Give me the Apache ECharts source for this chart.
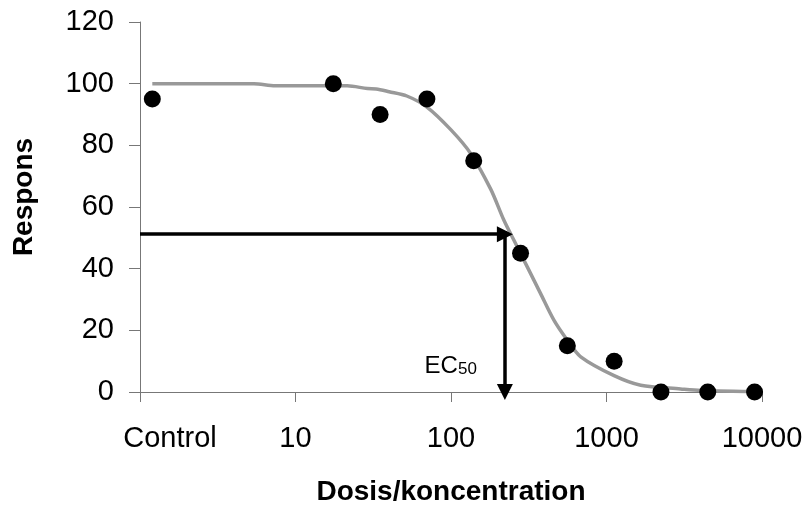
<!DOCTYPE html>
<html lang="da">
<head>
    <meta charset="UTF-8">
    <title>Dosis-respons kurve</title>
    <script src="https://cdn.jsdelivr.net/npm/echarts@6/dist/echarts.min.js"></script>
    <style>
        html, body {margin: 0; padding: 0; background: #fff;}
        #chart {width: 809px; height: 506px;}
    </style>
</head>
<body>
<div id="chart"></div>
<script>
    // målepunkter (Control placeres ved dosis ~1.2 på log-aksen)
    var doses = [1.2, 17.5, 35, 70, 140, 280, 560, 1120, 2240, 4480, 8960];
    var responses = [95, 100, 90, 95, 75, 45, 15, 10, 0, 0, 0];

    // den tilpassede kurve
    var fitDoses = [1.2, 2, 3.5, 5.4, 7.4, 10, 15, 21.5, 29, 33, 40, 52, 70, 100, 134, 180, 219, 254, 310, 377, 459, 560, 683, 1119, 1660, 3000, 4050, 10000];
    var fitResp = [100, 100, 100, 100, 99.3, 99.3, 99.3, 99.3, 98.4, 98.3, 97.4, 96, 92.4, 85, 77.3, 65.8, 55.7, 49.2, 40.5, 31.9, 23.3, 16.8, 11.4, 5.3, 2.2, 1.0, 0.5, 0.1];

    // EC50 pile
    var ec50Dose = 222;
    var ec50Resp = 51.2;

    var yTicks = [0, 20, 40, 60, 80, 100, 120];

    var font = '"Liberation Sans", Arial, sans-serif';
    var axisColor = '#777777';

    var myChart = echarts.init(document.getElementById('chart'));

    myChart.setOption({
        animation: false,
        grid: {left: 140, right: 47, top: 22, bottom: 114, outerBoundsMode: 'none', containLabel: false},
        xAxis: {
            type: 'log',
            logBase: 10,
            min: 1,
            max: 10000,
            name: 'Dosis/koncentration',
            nameLocation: 'middle',
            nameGap: 86,
            nameTextStyle: {fontFamily: font, fontSize: 28, fontWeight: 'bold', color: '#000'},
            axisLine: {show: true, lineStyle: {color: axisColor, width: 1}},
            axisTick: {show: true, length: 10, lineStyle: {color: axisColor}},
            minorTick: {show: false},
            splitLine: {show: false},
            axisLabel: {
                fontFamily: font,
                fontSize: 29,
                color: '#000',
                margin: 32,
                formatter: function (v) {
                    return v === 1 ? '{c|Control}' : String(v);
                },
                rich: {
                    c: {fontFamily: font, fontSize: 29, color: '#000', padding: [0, 0, 0, 60]}
                }
            }
        },
        yAxis: {
            type: 'value',
            min: yTicks[0],
            max: yTicks[yTicks.length - 1],
            interval: 20,
            name: 'Respons',
            nameLocation: 'middle',
            nameGap: 102,
            nameTextStyle: {fontFamily: font, fontSize: 28, fontWeight: 'bold', color: '#000', padding: [0, 0, 0, 20]},
            axisLine: {show: true, lineStyle: {color: axisColor, width: 1}},
            axisTick: {show: true, length: 11, lineStyle: {color: axisColor}},
            splitLine: {show: false},
            axisLabel: {fontFamily: font, fontSize: 29, color: '#000', margin: 26}
        },
        series: [
            {
                name: 'kurve',
                type: 'line',
                data: fitDoses.map(function (d, i) { return [d, fitResp[i]]; }),
                smooth: 0.3,
                showSymbol: false,
                symbol: 'none',
                lineStyle: {color: '#999999', width: 3.5},
                silent: true,
                z: 2
            },
            {
                name: 'respons',
                type: 'scatter',
                data: doses.map(function (d, i) { return [d, responses[i]]; }),
                symbol: 'circle',
                symbolSize: 17,
                itemStyle: {color: '#000', opacity: 1},
                z: 4,
                markLine: {
                    silent: true,
                    symbol: ['none', 'triangle'],
                    symbolSize: 16,
                    label: {show: false},
                    lineStyle: {color: '#000', width: 3.5, type: 'solid'},
                    data: [
                        [{coord: [1, ec50Resp]}, {coord: [ec50Dose, ec50Resp]}],
                        [{coord: [ec50Dose, ec50Resp + 1]}, {coord: [ec50Dose, 0]}]
                    ]
                },
                markPoint: {
                    silent: true,
                    symbol: 'circle',
                    symbolSize: 0,
                    data: [{
                        coord: [ec50Dose, 9],
                        label: {
                            show: true,
                            position: 'left',
                            distance: 28,
                            formatter: '{a|EC}{s|50}',
                            rich: {
                                a: {fontFamily: font, fontSize: 24, color: '#000', verticalAlign: 'bottom', lineHeight: 28},
                                s: {fontFamily: font, fontSize: 17, color: '#000', verticalAlign: 'bottom', lineHeight: 22}
                            }
                        }
                    }]
                }
            }
        ]
    });
</script>
</body>
</html>
